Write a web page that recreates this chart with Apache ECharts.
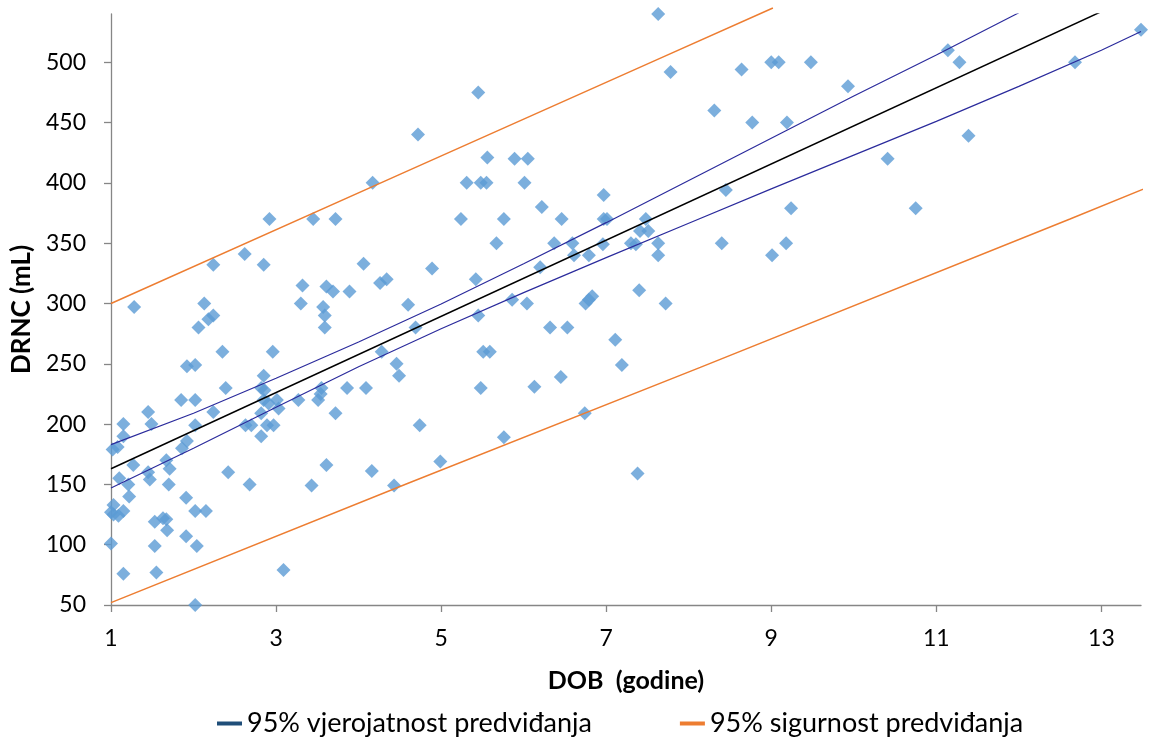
<!DOCTYPE html>
<html><head><meta charset="utf-8">
<script src="https://cdn.jsdelivr.net/npm/echarts@6/dist/echarts.min.js"></script>
<style>html,body{margin:0;padding:0;background:#fff}#c{width:1161px;height:742px}</style>
</head><body><div id="c"></div>
<script>
// scatter data: DOB (years) and DRNC (mL)
const dobValues = [
  1.28,2.13,2.24,2.18,2.06,2.24,2.62,2.85,2.92,3.30,3.32,3.45,3.57,3.61,3.59,3.59,3.69,3.72,3.89,4.06,4.17,4.26,4.34,4.60,
  2.35,2.96,1.92,2.02,4.28,4.46,4.49,1.45,1.49,1.15,1.15,1.02,1.08,1.27,1.10,1.21,1.22,1.03,1.03,1.15,1.09,1.00,1.00,1.15,1.55,
  1.45,1.47,1.67,1.71,1.70,1.53,1.63,1.67,1.68,1.53,1.91,1.91,2.04,2.02,2.15,2.02,3.09,1.86,1.92,1.85,2.02,2.02,2.24,2.39,2.42,
  2.68,2.63,2.70,2.82,2.89,2.97,2.82,2.85,2.82,2.86,2.85,2.91,3.01,3.03,3.27,3.51,3.55,3.54,3.72,3.86,4.09,3.61,4.16,4.43,3.43,
  5.45,4.72,7.78,5.56,5.89,6.05,5.31,5.48,5.55,6.01,6.97,6.22,5.24,5.76,6.46,6.97,7.01,7.48,7.41,7.51,5.67,6.37,6.59,6.96,7.30,
  7.36,7.63,7.63,6.61,6.79,4.89,6.20,5.42,5.86,6.04,6.75,6.79,6.83,7.40,7.72,5.45,4.69,6.32,6.53,7.11,
  7.19,6.45,6.13,5.48,5.51,5.59,4.74,5.76,4.99,6.74,7.38,
  8.64,9.00,9.09,9.48,9.93,8.31,8.77,9.19,11.14,11.28,11.39,10.41,8.45,9.24,10.75,8.40,9.18,9.01,13.48,12.68,7.63
];
const drncValues = [
  297,300,290,287,280,332,341,332,370,300,315,370,297,314,290,280,310,370,310,333,400,317,320,299,
  260,260,248,249,260,250,240,210,200,200,190,179,181,166,155,150,140,133,125,128,124,127,101,76,77,
  160,154,170,163,150,119,122,121,112,99,139,107,99,128,128,50,79,180,186,220,220,199,210,230,160,
  150,199,199,190,199,199,209,240,230,228,220,217,220,213,220,220,230,225,209,230,230,166,161,149,149,
  475,440,492,421,420,420,400,400,400,400,390,380,370,370,370,370,370,370,360,360,350,350,350,349,350,
  349,350,340,340,340,329,330,320,303,300,300,303,306,311,300,290,280,280,280,270,
  249,239,231,230,260,260,199,189,169,209,159,
  494,500,500,500,480,460,450,450,510,500,439,420,394,379,379,350,350,340,527,500,540
];
// lines: [DOB, DRNC]
const fitLine = [[1,163],[13,542]];
const confUpper = [[1,183],[2,209],[3,238],[4,268],[5,299.5],[6,333],[7,367],[8,402],[9,437],[10,472],[11,506],[12,541]];
const confLower = [[1,147],[2,180],[3,214],[4,247.5],[5,279],[6,309],[7,338],[8,366.5],[9,395],[10,423],[11,451],[12,480],[13,510],[13.48,525.5]];
const predUpper = [[1,300],[4.5,407],[7.61,502],[9.02,545]];
const predLower = [[1,52],[4.6,151],[8.14,247],[12.62,370],[13.73,401]];
const xTicks = [1,3,5,7,9,11,13];
const yTicks = [50,100,150,200,250,300,350,400,450,500];
const nameConf = '95% vjerojatnost predviđanja';
const namePred = '95% sigurnost predviđanja';

const points = dobValues.map((x, i) => [x, drncValues[i]]);
const FONT = 'Lato, "Liberation Sans", sans-serif';
const axisGray = '#868686';

const chart = echarts.init(document.getElementById('c'), null, {renderer: 'canvas'});
chart.setOption({
  animation: false,
  backgroundColor: '#fff',
  grid: {left: 111, right: 20, top: 14, bottom: 137, containLabel: false},
  legend: {
    left: 212, top: 705,
    icon: 'rect', itemWidth: 25, itemHeight: 4, itemGap: 88,
    textStyle: {fontFamily: FONT, fontSize: 27, color: '#000'},
    data: [
      {name: nameConf, itemStyle: {color: '#1F4E79'}},
      {name: namePred, itemStyle: {color: '#ED7D31'}}
    ]
  },
  xAxis: {
    type: 'value', min: 1, max: 13.48,
    name: 'DOB  (godine)', nameLocation: 'middle', nameGap: 63,
    nameTextStyle: {fontFamily: FONT, fontSize: 25, fontWeight: 'bold', color: '#000'},
    axisLine: {show: true, lineStyle: {color: axisGray, width: 1.3}},
    axisTick: {show: true, length: 7, customValues: xTicks, lineStyle: {color: axisGray, width: 1.3}},
    axisLabel: {customValues: xTicks, margin: 22, fontFamily: FONT, fontSize: 23, color: '#000'},
    splitLine: {show: false}
  },
  yAxis: {
    type: 'value', min: 50, max: 540,
    name: 'DRNC (mL)', nameLocation: 'middle', nameGap: 74, nameRotate: 90,
    nameTextStyle: {fontFamily: FONT, fontSize: 26, fontWeight: 'bold', color: '#000'},
    axisLine: {show: true, lineStyle: {color: axisGray, width: 1.3}},
    axisTick: {show: true, length: 7, customValues: yTicks, lineStyle: {color: axisGray, width: 1.3}},
    axisLabel: {customValues: yTicks, margin: 25, fontFamily: FONT, fontSize: 23, color: '#000'},
    splitLine: {show: false}
  },
  series: [
    {type: 'scatter', data: points, symbol: 'diamond', symbolSize: 14,
     itemStyle: {color: '#5B9BD5'}, z: 1, clip: false},
    {type: 'line', name: namePred, data: predUpper, symbol: 'none', clip: false,
     lineStyle: {color: '#ED7D31', width: 1.5}, itemStyle: {color: '#ED7D31'}, z: 3},
    {type: 'line', name: namePred, data: predLower, symbol: 'none', clip: false,
     lineStyle: {color: '#ED7D31', width: 1.5}, itemStyle: {color: '#ED7D31'}, z: 3},
    {type: 'line', name: nameConf, data: confUpper, symbol: 'none', clip: true,
     lineStyle: {color: '#2B2B9C', width: 1.2}, itemStyle: {color: '#1F4E79'}, z: 3},
    {type: 'line', name: nameConf, data: confLower, symbol: 'none', clip: true,
     lineStyle: {color: '#2B2B9C', width: 1.2}, itemStyle: {color: '#1F4E79'}, z: 3},
    {type: 'line', name: 'fit', data: fitLine, symbol: 'none', clip: true,
     lineStyle: {color: '#000', width: 1.5}, z: 3}
  ]
});
</script></body></html>
